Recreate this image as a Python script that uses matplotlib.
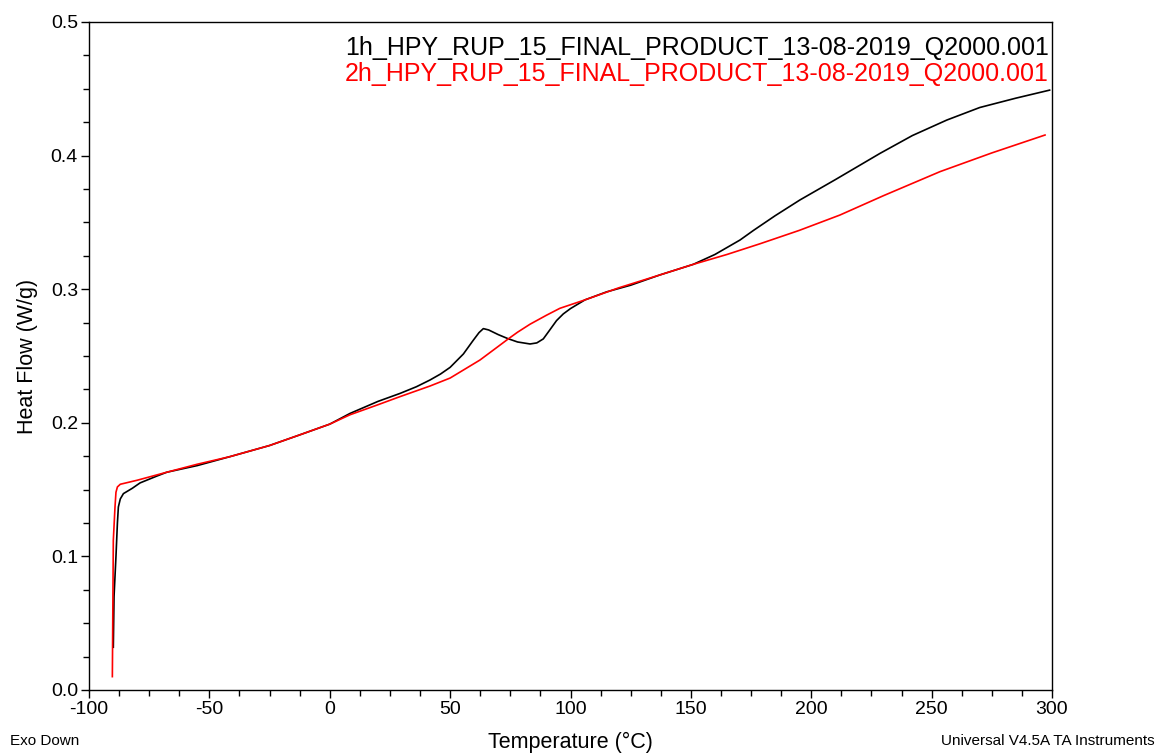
import matplotlib
matplotlib.use("Agg")
import matplotlib.pyplot as plt
from matplotlib.ticker import MultipleLocator, FormatStrFormatter

plt.rcParams['font.family'] = ['Liberation Sans', 'DejaVu Sans']
plt.rcParams['axes.unicode_minus'] = False

# 1h sample (black)
temp_1h = [-89.9, -89.6, -88.8, -88.2, -87.8, -87.0, -85.7, -82.0, -78.8, -72.0,
           -67.7, -55.0, -41.4, -25.0, -12.4, 0.0, 8.4, 20.0, 29.2, 36.0,
           41.6, 46.0, 50.0, 55.5, 59.5, 62.0, 63.8, 66.0, 70.0, 74.0,
           78.0, 83.2, 86.0, 88.7, 91.0, 94.2, 97.0, 100.0, 106.0, 115.0,
           125.0, 137.0, 151.0, 160.0, 170.4, 176.0, 185.0, 195.3, 210.0, 228.6,
           242.0, 256.3, 270.0, 285.0, 299.0]
hf_1h = [0.032, 0.070, 0.100, 0.125, 0.137, 0.143, 0.147, 0.151, 0.155, 0.160,
         0.163, 0.168, 0.1747, 0.183, 0.191, 0.199, 0.207, 0.216, 0.222, 0.227,
         0.232, 0.2365, 0.2415, 0.2515, 0.2615, 0.2675, 0.2705, 0.2695, 0.266, 0.263,
         0.2605, 0.259, 0.2598, 0.2628, 0.2685, 0.2765, 0.2815, 0.2855, 0.292, 0.298,
         0.303, 0.3106, 0.3186, 0.326, 0.3368, 0.344, 0.355, 0.3668, 0.382, 0.4017,
         0.415, 0.4266, 0.436, 0.443, 0.449]

# 2h sample (red)
temp_2h = [-90.3, -90.1, -89.9, -89.2, -88.8, -88.2, -87.0, -80.0, -67.7, -55.0,
           -41.4, -25.0, -12.4, 0.0, 8.4, 20.0, 29.2, 41.6, 50.0, 62.4,
           70.0, 74.0, 78.0, 83.2, 90.0, 95.6, 106.0, 120.0, 137.0, 151.0,
           165.0, 178.7, 195.0, 211.9, 230.0, 253.5, 275.0, 297.1]
hf_2h = [0.010, 0.060, 0.112, 0.137, 0.148, 0.152, 0.154, 0.157, 0.163, 0.169,
         0.1747, 0.183, 0.191, 0.199, 0.206, 0.2135, 0.2196, 0.2275, 0.2335, 0.247,
         0.2572, 0.2626, 0.2678, 0.2738, 0.2805, 0.2857, 0.292, 0.301, 0.3106, 0.3186,
         0.326, 0.334, 0.344, 0.3555, 0.370, 0.388, 0.402, 0.4154]

labels = ["1h_HPY_RUP_15_FINAL_PRODUCT_13-08-2019_Q2000.001",
          "2h_HPY_RUP_15_FINAL_PRODUCT_13-08-2019_Q2000.001"]
colors = ["black", "red"]

fig = plt.figure(figsize=(11.61, 7.54), dpi=100)
ax = fig.add_axes([89/1161, 64/754, (1052-89)/1161, (690-22)/754])

ax.plot(temp_1h, hf_1h, color=colors[0], lw=1.2)
ax.plot(temp_2h, hf_2h, color=colors[1], lw=1.2)

ax.set_xlim(-100, 300)
ax.set_ylim(0.0, 0.5)
ax.xaxis.set_major_locator(MultipleLocator(50))
ax.xaxis.set_minor_locator(MultipleLocator(12.5))
ax.yaxis.set_major_locator(MultipleLocator(0.1))
ax.yaxis.set_minor_locator(MultipleLocator(0.025))
ax.yaxis.set_major_formatter(FormatStrFormatter('%.1f'))
ax.tick_params(which='major', direction='out', length=6, width=1, labelsize=14, pad=2)
ax.tick_params(which='minor', direction='out', length=4, width=1)
for s in ax.spines.values():
    s.set_linewidth(1)

ax.set_xlabel("Temperature (°C)", fontsize=15.5, labelpad=10)
ax.set_ylabel("Heat Flow (W/g)", fontsize=15.5, labelpad=9)

baselines_px = [55, 81]
for lab, c, bpx in zip(labels, colors, baselines_px):
    ax.text(0.9965, (690 - bpx) / 668, lab, color=c, fontsize=18,
            ha='right', va='baseline', transform=ax.transAxes)

fig.text(10/1161, 1 - 745/754, "Exo Down", fontsize=11, ha='left', va='baseline')
fig.text(1155/1161, 1 - 745/754, "Universal V4.5A TA Instruments", fontsize=11,
         ha='right', va='baseline')

fig.savefig("out.png", dpi=100)
